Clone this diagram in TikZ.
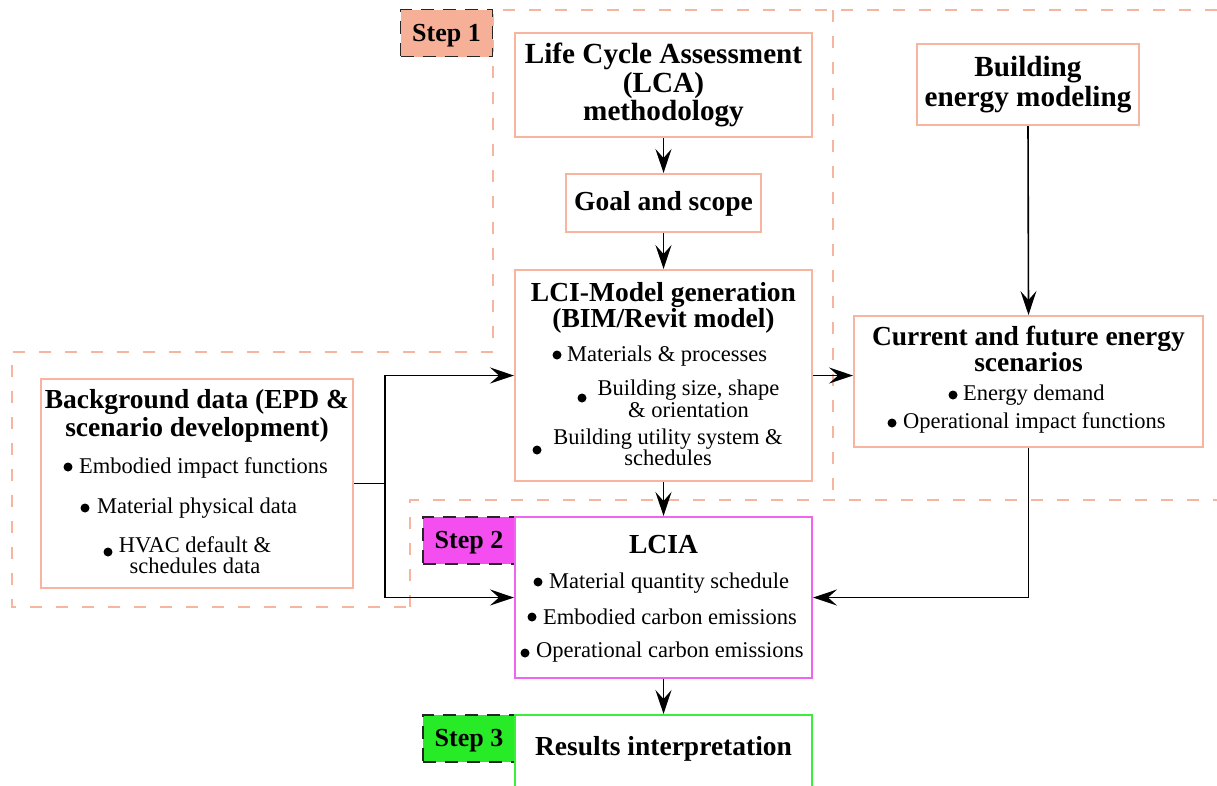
\documentclass[tikz,border=0pt]{standalone}
\usepackage{fontspec}
\setmainfont{Liberation Serif}
\usetikzlibrary{arrows.meta}
\definecolor{salmon}{RGB}{247,180,158}
\definecolor{salmonfill}{RGB}{247,176,152}
\definecolor{magfill}{RGB}{244,78,240}
\definecolor{magline}{RGB}{240,100,240}
\definecolor{grnfill}{RGB}{40,235,40}
\definecolor{grnline}{RGB}{60,238,60}
\begin{document}
\begin{tikzpicture}[x=1pt,y=-1pt,
  box/.style={draw=salmon, line width=2pt, inner sep=0pt, fill=white},
  stepbox/.style={draw=black!85, line width=1.8pt, dash pattern=on 13pt off 9pt, inner sep=0pt, minimum width=92pt, minimum height=47pt},
  region/.style={draw=salmon, line width=1.6pt, dash pattern=on 12pt off 14pt},
  arr/.style={-{Stealth[length=24pt,width=16pt,inset=9pt]}, line width=1.6pt},
  conn/.style={line width=1.6pt},
  head/.style={font=\fontsize{27.5}{29}\selectfont\bfseries, align=center, inner sep=0pt},
  steptext/.style={font=\fontsize{26}{27}\selectfont\bfseries, inner sep=0pt},
  body/.style={font=\fontsize{22.5}{22}\selectfont, inner sep=0pt},
  bul/.style={circle, fill=black, inner sep=0pt, minimum size=9pt}
]
\useasboundingbox (0,0) rectangle (1217,785);
\clip (0,0) rectangle (1217,785);

% dashed regions
\draw[region] (1217,10) -- (493,10) -- (493,352) -- (12,352) -- (12,607) -- (410,607);
\draw[region] (410,607) -- (410,500) -- (1217,500);
\draw[region] (833,10) -- (833,500);

% step labels
\node[stepbox, fill=salmonfill] (s1) at (446.5,33) {};
\node[stepbox, fill=magfill] (s2) at (469,540.5) {};
\node[stepbox, fill=grnfill] (s3) at (469,738.5) {};
\node[steptext, anchor=base] (s1t) at (446.5,41) {Step 1};
\node[steptext, anchor=base] (s2t) at (469,548) {Step 2};
\node[steptext, anchor=base] (s3t) at (469,746) {Step 3};

% boxes
\node[box, minimum width=297pt, minimum height=104pt] (lca) at (663.5,85) {};
\node[box, minimum width=195pt, minimum height=58pt] (goal) at (663.5,203) {};
\node[box, minimum width=297pt, minimum height=211pt] (lci) at (663.5,375.5) {};
\node[box, minimum width=222pt, minimum height=81pt] (bem) at (1028,84.5) {};
\node[box, minimum width=349pt, minimum height=131pt] (cur) at (1028.5,381.5) {};
\node[box, minimum width=312pt, minimum height=209pt] (bg) at (197,483.5) {};
\node[box, draw=magline, minimum width=297pt, minimum height=161pt] (lcia) at (663.5,597.5) {};
\node[box, draw=grnline, minimum width=297pt, minimum height=90pt] (res) at (663.5,760) {};

% texts
\node[head, font=\fontsize{29.2}{28.6}\selectfont\bfseries] (lcat) at (663.5,85) {Life Cycle Assessment\\(LCA)\\methodology};
\node[head, anchor=base] (goalt) at (663.5,210) {Goal and scope};
\node[head, font=\fontsize{27.5}{26}\selectfont\bfseries] (lcit) at (663.5,308.3) {LCI-Model generation\\(BIM/Revit model)};
\node[head, font=\fontsize{29.2}{30}\selectfont\bfseries] (bemt) at (1028,84.1) {Building\\energy modeling};
\node[head, font=\fontsize{27.5}{21}\selectfont\bfseries] (curt) at (1028.5,349) {Current and future energy\\scenarios};
\node[head, font=\fontsize{27.5}{28.4}\selectfont\bfseries] (bgt) at (197,415.8) {Background data (EPD \&\\scenario development)};
\node[head, anchor=base] (lciat) at (663.5,553) {LCIA};
\node[head, anchor=base] (rest) at (663.5,755) {Results interpretation};

% LCI bullets
\node[bul] (b1) at (557,355) {};
\node[body, anchor=base west] (t1) at (567,361) {Materials \& processes};
\node[bul] (b2) at (582,398) {};
\node[body, align=center] (t2) at (688.5,398.3) {Building size, shape\\\& orientation};
\node[bul] (b3) at (537,450) {};
\node[body, align=center, font=\fontsize{22.5}{20}\selectfont] (t3) at (668,447.3) {Building utility system \&\\schedules};

% background bullets
\node[bul] (b4) at (68,467) {};
\node[body, anchor=base west] (t4) at (79,473) {Embodied impact functions};
\node[bul] (b5) at (85,508) {};
\node[body, anchor=base west] (t5) at (97,513) {Material physical data};
\node[bul] (b6) at (108,552) {};
\node[body, align=center, font=\fontsize{22.5}{21}\selectfont] (t6) at (195,554.8) {HVAC default \&\\schedules data};

% current bullets
\node[bul] (b7) at (953,395) {};
\node[body, anchor=base west] (t7) at (963,400) {Energy demand};
\node[bul] (b8) at (892,423) {};
\node[body, anchor=base west] (t8) at (903,428) {Operational impact functions};

% LCIA bullets
\node[bul] (b9) at (538,582) {};
\node[body, anchor=base west] (t9) at (549,588) {Material quantity schedule};
\node[bul] (b10) at (532,617) {};
\node[body, anchor=base west] (t10) at (543,624) {Embodied carbon emissions};
\node[bul] (b11) at (525,653) {};
\node[body, anchor=base west] (t11) at (536,657) {Operational carbon emissions};

% connectors
\draw[arr] (lca.south) -- (goal.north);
\draw[arr] (goal.south) -- (lci.north);
\draw[arr] (lci.south) -- (lcia.north);
\draw[arr] (lcia.south) -- (res.north);
\draw[arr] (bem.south) -- (cur.north);
\draw[arr] (lci.east) -- (lci.east -| cur.west);
\coordinate (j) at (385,483.5);
\draw[conn] (bg.east) -- (j);
\draw[arr] (j) |- (lci.west);
\draw[arr] (j) |- (lcia.west);
\draw[arr] (cur.south) |- (lcia.east);
\end{tikzpicture}
\end{document}
